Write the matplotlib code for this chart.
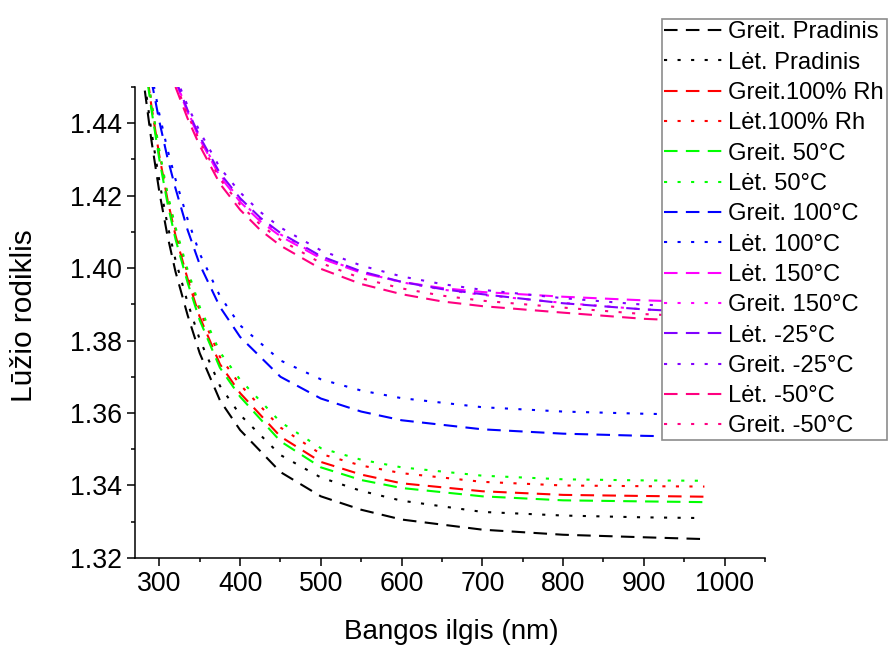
import matplotlib
matplotlib.use("Agg")
import matplotlib.pyplot as plt
from matplotlib.ticker import MultipleLocator, FormatStrFormatter

plt.rcParams['font.family'] = ['Liberation Sans', 'DejaVu Sans']

# wavelength grids (nm)
wl_low = [282, 290, 300, 310, 320, 335, 350, 375, 400, 450, 500, 550, 600, 700, 800, 900, 975]
wl_blue = [290, 300, 310, 320, 335, 350, 375, 400, 450, 500, 550, 600, 700, 800, 900, 975]
wl_top = [320, 335, 350, 375, 400, 425, 450, 500, 550, 600, 650, 700, 800, 900, 975]

# refractive index
greit_pradinis = [1.449, 1.4355, 1.4210, 1.4090, 1.3990, 1.3870, 1.3765, 1.3635, 1.3553, 1.3437,
                  1.3370, 1.3333, 1.3306, 1.3278, 1.3264, 1.3257, 1.3252]
let_pradinis = [1.451, 1.438, 1.424, 1.412, 1.4022, 1.3905, 1.3803, 1.3675, 1.3595, 1.3484,
                1.3422, 1.3385, 1.3358, 1.3327, 1.3317, 1.3312, 1.3310]
greit_rh = [1.458, 1.445, 1.431, 1.419, 1.409, 1.397, 1.3865, 1.3735, 1.3655, 1.3535,
            1.3465, 1.3430, 1.3406, 1.3384, 1.3374, 1.3371, 1.3369]
let_rh = [1.459, 1.446, 1.432, 1.420, 1.4105, 1.3985, 1.3882, 1.3755, 1.3678, 1.3560,
          1.3487, 1.3455, 1.3434, 1.3410, 1.3400, 1.3398, 1.3397]
greit_50 = [1.457, 1.444, 1.430, 1.418, 1.408, 1.396, 1.3856, 1.3725, 1.3645, 1.3522,
            1.3450, 1.3415, 1.3393, 1.3370, 1.3359, 1.3356, 1.3354]
let_50 = [1.459, 1.446, 1.4325, 1.4207, 1.4113, 1.3995, 1.3893, 1.3768, 1.3692, 1.3575,
          1.3503, 1.3471, 1.3450, 1.3427, 1.3417, 1.3414, 1.3413]
greit_100 = [1.452, 1.4405, 1.4305, 1.4220, 1.4105, 1.4010, 1.3893, 1.3810, 1.3700, 1.3640,
             1.3604, 1.3580, 1.3555, 1.3543, 1.3537, 1.3534]
let_100 = [1.454, 1.4425, 1.4328, 1.4245, 1.4135, 1.4040, 1.3923, 1.3842, 1.3745, 1.3693,
           1.3662, 1.3641, 1.3616, 1.3604, 1.3598, 1.3595]
let_150 = [1.4515, 1.4430, 1.4356, 1.4253, 1.4183, 1.4129, 1.4088, 1.4027, 1.3987, 1.3962,
           1.3945, 1.3934, 1.3921, 1.3911, 1.3906]
greit_150 = [1.4518, 1.4433, 1.4360, 1.4258, 1.4188, 1.4134, 1.4093, 1.4030, 1.3989, 1.3961,
             1.3941, 1.3926, 1.3904, 1.3886, 1.3879]
let_m25 = [1.4520, 1.4436, 1.4363, 1.4262, 1.4193, 1.4139, 1.4097, 1.4033, 1.3991, 1.3962,
           1.3942, 1.3928, 1.3903, 1.3886, 1.3878]
greit_m25 = [1.4530, 1.4448, 1.4377, 1.4277, 1.4209, 1.4155, 1.4112, 1.4049, 1.4007, 1.3977,
             1.3956, 1.3940, 1.3917, 1.3899, 1.3892]
let_m50 = [1.4500, 1.4413, 1.4338, 1.4233, 1.4161, 1.4105, 1.4062, 1.3998, 1.3956, 1.3928,
           1.3908, 1.3895, 1.3877, 1.3860, 1.3853]
greit_m50 = [1.4510, 1.4424, 1.4350, 1.4246, 1.4175, 1.4120, 1.4078, 1.4014, 1.3972, 1.3944,
             1.3924, 1.3910, 1.3891, 1.3873, 1.3866]

dash = (0, (6.5, 4))
dot = (0, (1.5, 5))

series = [
    (wl_low, greit_pradinis, 'Greit. Pradinis', 'black', dash),
    (wl_low, let_pradinis, 'Lėt. Pradinis', 'black', dot),
    (wl_low, greit_rh, 'Greit.100% Rh', '#FF0000', dash),
    (wl_low, let_rh, 'Lėt.100% Rh', '#FF0000', dot),
    (wl_low, greit_50, 'Greit. 50°C', '#00FF00', dash),
    (wl_low, let_50, 'Lėt. 50°C', '#00FF00', dot),
    (wl_blue, greit_100, 'Greit. 100°C', '#0000FF', dash),
    (wl_blue, let_100, 'Lėt. 100°C', '#0000FF', dot),
    (wl_top, let_150, 'Lėt. 150°C', '#FF00FF', dash),
    (wl_top, greit_150, 'Greit. 150°C', '#FF00FF', dot),
    (wl_top, let_m25, 'Lėt. -25°C', '#8000FF', dash),
    (wl_top, greit_m25, 'Greit. -25°C', '#8000FF', dot),
    (wl_top, let_m50, 'Lėt. -50°C', '#FF0080', dash),
    (wl_top, greit_m50, 'Greit. -50°C', '#FF0080', dot),
]

fig = plt.figure(figsize=(8.89, 6.48), dpi=100)
ax = fig.add_axes([0.152, 0.139, 0.7085, 0.7268])

for x, y, lab, col, ls in series:
    ax.plot(x, y, color=col, linestyle=ls, lw=1.5, label=lab)

ax.set_xlim(270, 1050)
ax.set_ylim(1.32, 1.45)
ax.xaxis.set_major_locator(MultipleLocator(100))
ax.xaxis.set_minor_locator(MultipleLocator(50))
ax.yaxis.set_major_locator(MultipleLocator(0.02))
ax.yaxis.set_minor_locator(MultipleLocator(0.01))
ax.yaxis.set_major_formatter(FormatStrFormatter('%.2f'))

for s in ['top', 'right']:
    ax.spines[s].set_visible(False)
for s in ['left', 'bottom']:
    ax.spines[s].set_linewidth(1.1)

ax.tick_params(which='major', direction='out', length=5.5, width=1.1, labelsize=19.3, pad=4)
ax.tick_params(which='minor', direction='out', length=3, width=1.1)

ax.set_xlabel('Bangos ilgis (nm)', fontsize=20)
ax.set_ylabel('Lūžio rodiklis', fontsize=21.5)
ax.xaxis.set_label_coords(0.502, -0.157)
ax.xaxis.label.set_va('center')
ax.yaxis.set_label_coords(-0.177, 0.515)
ax.yaxis.label.set_va('center')

leg = ax.legend(loc='upper left', bbox_to_anchor=(662 / 889, 1 - 19 / 648),
                bbox_transform=fig.transFigure, borderaxespad=0, fontsize=17.1,
                handlelength=2.45, handletextpad=0.25, labelspacing=0.35,
                borderpad=0.1, fancybox=False, framealpha=1, edgecolor='0.55')
leg.get_frame().set_linewidth(1.2)

fig.savefig('out.png', dpi=100)
